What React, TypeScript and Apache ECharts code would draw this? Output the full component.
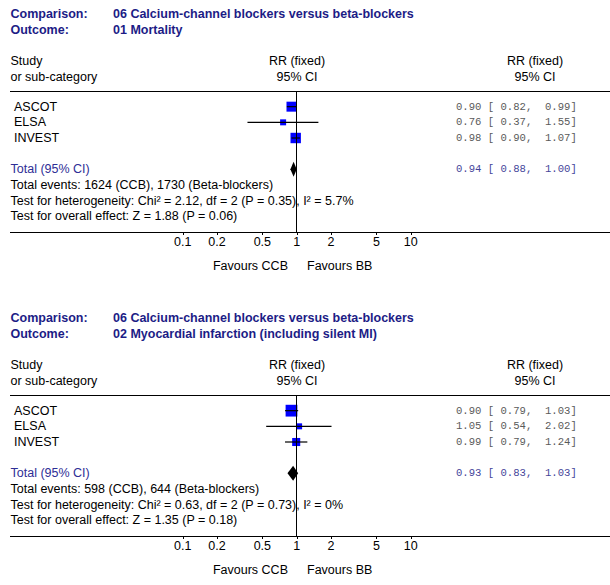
import React, { useEffect, useRef } from "react";
import * as echarts from "echarts";

// ---------- data ----------
const comparisonText = "06 Calcium-channel blockers versus beta-blockers";
const outcomeTexts = ["01 Mortality", "02 Myocardial infarction (including silent MI)"];
const studies = ["ASCOT", "ELSA", "INVEST"];

const rr1 = [0.9, 0.76, 0.98];
const lo1 = [0.82, 0.37, 0.9];
const hi1 = [0.99, 1.55, 1.07];
const weight1 = [47.4, 1.0, 51.6];
const total1 = [0.94, 0.88, 1.0];
const footer1 = [
  "Total events: 1624 (CCB), 1730 (Beta-blockers)",
  "Test for heterogeneity: Chi² = 2.12, df = 2 (P = 0.35), I² = 5.7%",
  "Test for overall effect: Z = 1.88 (P = 0.06)",
];

const rr2 = [0.9, 1.05, 0.99];
const lo2 = [0.79, 0.54, 0.79];
const hi2 = [1.03, 2.02, 1.24];
const weight2 = [66, 3, 31];
const total2 = [0.93, 0.83, 1.03];
const footer2 = [
  "Total events: 598 (CCB), 644 (Beta-blockers)",
  "Test for heterogeneity: Chi² = 0.63, df = 2 (P = 0.73), I² = 0%",
  "Test for overall effect: Z = 1.35 (P = 0.18)",
];

const tickValues = [0.1, 0.2, 0.5, 1, 2, 5, 10];
const tickLabels = ["0.1", "0.2", "0.5", "1", "2", "5", "10"];
const favoursLeft = "Favours CCB";
const favoursRight = "Favours BB";

// ---------- layout ----------
const SANS = "'Liberation Sans', Arial, sans-serif";
const MONO = "'Liberation Mono', 'Courier New', monospace";
const FS = 12.5;
const MONO_FS = 10.6;
const NAVY = "#1c1c86";
const TOTAL_COL = "#2e2e96";
const NUM_COL = "#5a5a5a";
const TOTNUM_COL = "#45459a";
const PANEL_OFFSET = 304;
const GRID_LEFT = 182.7;
const GRID_W = 228;
const GRID_TOP = 91;
const GRID_H = 141;
const ROW_MAX = 9;

const fmt = (a: number, b: number, c: number) =>
  `${a.toFixed(2)} [${b.toFixed(2).padStart(5)}, ${c.toFixed(2).padStart(5)}]`;

function App() {
  const ref = useRef<HTMLDivElement>(null);
  useEffect(() => {
    document.body.style.margin = "0";
    if (!ref.current) return;
    const chart = echarts.init(ref.current, undefined, { renderer: "svg" });

    const panels = [
      { rr: rr1, lo: lo1, hi: hi1, w: weight1, tot: total1, footer: footer1, outcome: outcomeTexts[0] },
      { rr: rr2, lo: lo2, hi: hi2, w: weight2, tot: total2, footer: footer2, outcome: outcomeTexts[1] },
    ];

    const graphics: any[] = [];
    const txt = (text: string, x: number, y: number, opts: any = {}) =>
      graphics.push({
        type: "text",
        x,
        y,
        silent: true,
        style: {
          text,
          fontFamily: SANS,
          fontSize: FS,
          fill: "#000",
          align: "left",
          verticalAlign: "middle",
          ...opts,
        },
      });
    const hline = (y: number) =>
      graphics.push({
        type: "line",
        silent: true,
        shape: { x1: 10, y1: y, x2: 610, y2: y },
        style: { stroke: "#000", lineWidth: 1 },
      });

    const rowY = (off: number, r: number) => GRID_TOP + off + (r * GRID_H) / ROW_MAX;

    panels.forEach((p, i) => {
      const off = i * PANEL_OFFSET;
      txt("Comparison:", 10.5, 14.3 + off, { fontWeight: "bold", fill: NAVY });
      txt(comparisonText, 113, 14.3 + off, { fontWeight: "bold", fill: NAVY });
      txt("Outcome:", 10.5, 30.3 + off, { fontWeight: "bold", fill: NAVY });
      txt(p.outcome, 113, 30.3 + off, { fontWeight: "bold", fill: NAVY });
      txt("Study", 10.5, 61 + off);
      txt("or sub-category", 10.5, 76.5 + off);
      txt("RR (fixed)", 297, 61 + off, { align: "center" });
      txt("95% CI", 297, 76.5 + off, { align: "center" });
      txt("RR (fixed)", 535, 61 + off, { align: "center" });
      txt("95% CI", 535, 76.5 + off, { align: "center" });
      hline(GRID_TOP + off + 0.5);
      hline(GRID_TOP + GRID_H + off + 0.5);
      studies.forEach((s, k) => {
        txt(s, 14, rowY(off, k + 1));
        txt(fmt(p.rr[k], p.lo[k], p.hi[k]), 456, rowY(off, k + 1), {
          fontFamily: MONO,
          fontSize: MONO_FS,
          fill: NUM_COL,
        });
      });
      txt("Total (95% CI)", 10.5, rowY(off, 5), { fill: TOTAL_COL });
      txt(fmt(p.tot[0], p.tot[1], p.tot[2]), 456, rowY(off, 5), {
        fontFamily: MONO,
        fontSize: MONO_FS,
        fill: TOTNUM_COL,
      });
      p.footer.forEach((f, k) => txt(f, 10.5, rowY(off, 6 + k)));
      txt(favoursLeft, 288, 265.7 + off, { align: "right" });
      txt(favoursRight, 307, 265.7 + off, { align: "left" });
    });

    const grids = panels.map((_, i) => ({
      left: GRID_LEFT,
      width: GRID_W,
      top: GRID_TOP + i * PANEL_OFFSET,
      height: GRID_H,
      containLabel: false,
    }));
    const xAxes = panels.map((_, i) => ({
      type: "log",
      logBase: 10,
      min: 0.1,
      max: 10,
      gridIndex: i,
      show: false,
    }));
    const yAxes = panels.map((_, i) => ({
      type: "value",
      min: 0,
      max: ROW_MAX,
      inverse: true,
      gridIndex: i,
      show: false,
    }));

    const series: any[] = [];
    panels.forEach((p, i) => {
      series.push({
        type: "custom",
        xAxisIndex: i,
        yAxisIndex: i,
        clip: false,
        encode: { x: 0, y: 1 },
        data: studies.map((_, k) => [p.rr[k], k + 1, p.lo[k], p.hi[k], p.w[k]]),
        renderItem: (params: any, api: any) => {
          const row = api.value(1);
          const c = api.coord([api.value(0), row]);
          const l = api.coord([api.value(2), row]);
          const h = api.coord([api.value(3), row]);
          const s = Math.max(6, 1.45 * Math.sqrt(api.value(4)));
          return {
            type: "group",
            children: [
              {
                type: "rect",
                shape: { x: c[0] - s / 2, y: c[1] - s / 2, width: s, height: s },
                style: { fill: "#0000ff" },
              },
              {
                type: "line",
                shape: { x1: l[0], y1: c[1], x2: h[0], y2: c[1] },
                style: { stroke: "#000", lineWidth: 1.2 },
              },
            ],
          };
        },
        markLine: {
          silent: true,
          symbol: "none",
          label: { show: false },
          lineStyle: { color: "#000", width: 1, type: "solid" },
          data: [{ xAxis: 1 }],
        },
      });
      series.push({
        type: "custom",
        xAxisIndex: i,
        yAxisIndex: i,
        clip: false,
        encode: { x: 0, y: 1 },
        data: [[p.tot[0], 5, p.tot[1], p.tot[2]]],
        renderItem: (params: any, api: any) => {
          const row = api.value(1);
          const c = api.coord([api.value(0), row]);
          const l = api.coord([api.value(2), row]);
          const h = api.coord([api.value(3), row]);
          const hh = 7.5;
          return {
            type: "polygon",
            shape: {
              points: [
                [l[0], c[1]],
                [c[0], c[1] - hh],
                [h[0], c[1]],
                [c[0], c[1] + hh],
              ],
            },
            style: { fill: "#000" },
          };
        },
      });
      series.push({
        type: "custom",
        xAxisIndex: i,
        yAxisIndex: i,
        clip: false,
        encode: { x: 0, y: 1 },
        data: tickValues.map((v, k) => [v, ROW_MAX, k]),
        renderItem: (params: any, api: any) => {
          const c = api.coord([api.value(0), api.value(1)]);
          const x = Math.round(c[0]) + 0.5;
          return {
            type: "group",
            children: [
              {
                type: "line",
                shape: { x1: x, y1: c[1], x2: x, y2: c[1] + 3 },
                style: { stroke: "#000", lineWidth: 1 },
              },
              {
                type: "text",
                style: {
                  text: tickLabels[api.value(2)],
                  x: c[0],
                  y: c[1] + 10,
                  align: "center",
                  verticalAlign: "middle",
                  fontFamily: SANS,
                  fontSize: FS,
                  fill: "#000",
                },
              },
            ],
          };
        },
      });
    });

    chart.setOption({
      animation: false,
      backgroundColor: "#ffffff",
      grid: grids,
      xAxis: xAxes,
      yAxis: yAxes,
      series,
      graphic: graphics,
    });

    return () => chart.dispose();
  }, []);

  return <div ref={ref} style={{ width: 610, height: 585 }} />;
}

export default App;
